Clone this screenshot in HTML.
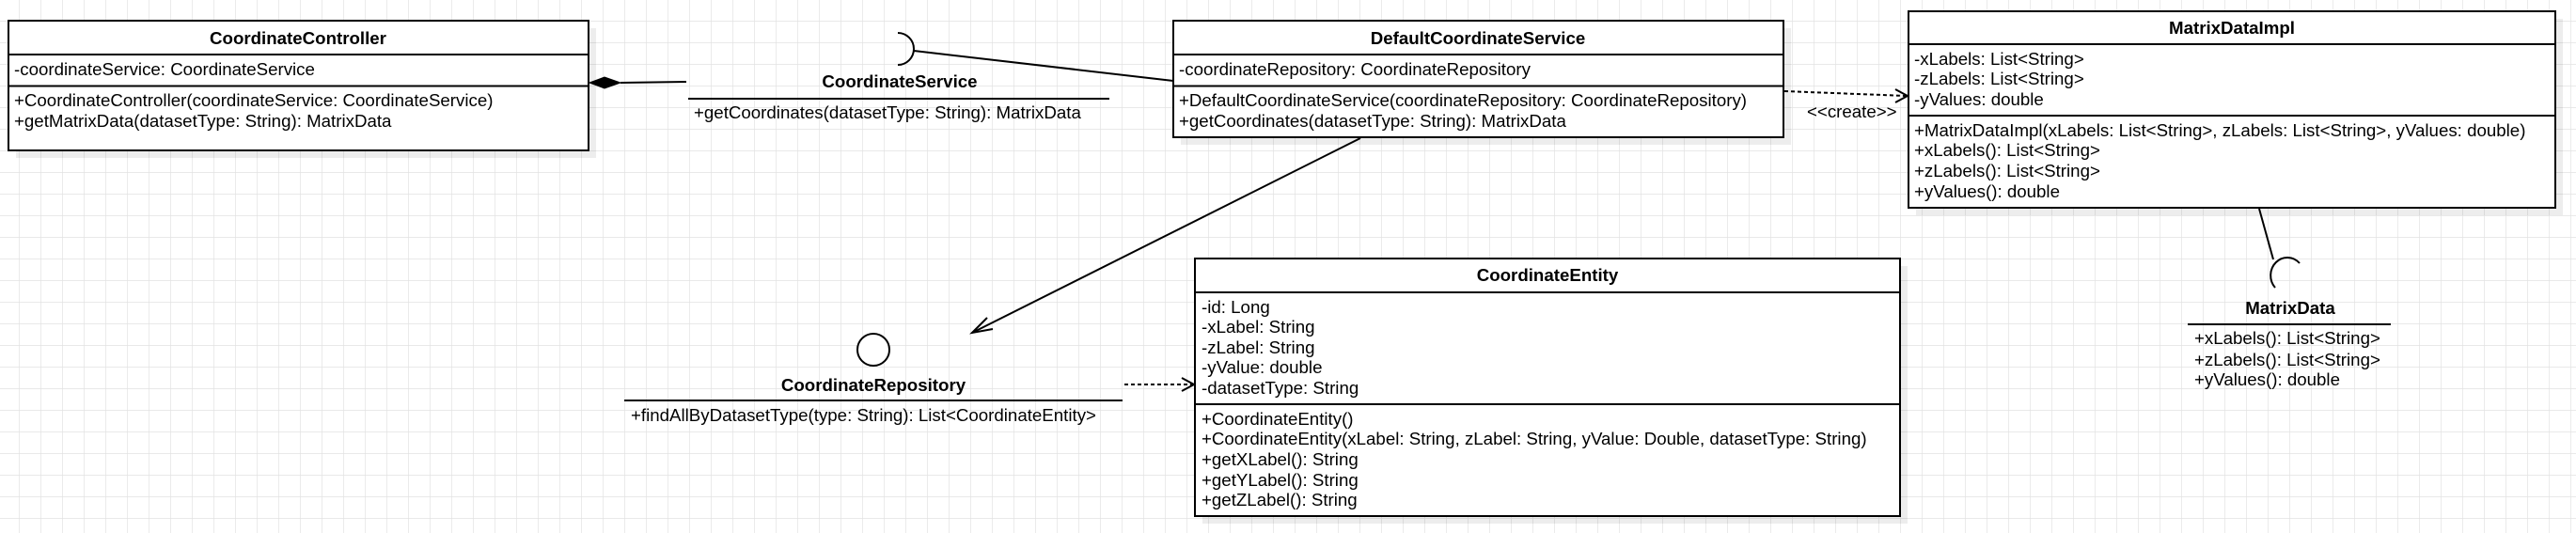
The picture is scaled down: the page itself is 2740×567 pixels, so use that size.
<!DOCTYPE html>
<html><head><meta charset="utf-8"><style>
html,body{margin:0;padding:0;background:#fff;}
svg{display:block;}
text{font-family:"Liberation Sans",sans-serif;font-size:18.7px;fill:#000;}
.b{font-weight:bold;}
</style></head><body>
<svg width="2740" height="567" viewBox="0 0 2740 567" xmlns="http://www.w3.org/2000/svg">
<defs>
<pattern id="g" x="20" y="22" width="23" height="23" patternUnits="userSpaceOnUse">
<path d="M0 0H23M0 0V23" stroke="#e2e2e2" stroke-width="1.4" fill="none"/>
</pattern>
</defs>
<rect width="2740" height="567" fill="url(#g)"/>

<g fill="#000" opacity="0.07">
<rect x="17" y="30" width="617" height="138"/>
<rect x="1256" y="30" width="649" height="124"/>
<rect x="2038" y="20" width="688" height="209"/>
<rect x="1279" y="283" width="750" height="274"/>
</g>

<g fill="#fff" stroke="#000" stroke-width="2">
<rect x="9" y="22" width="617" height="138"/>
<line x1="9" y1="58" x2="626" y2="58"/>
<line x1="9" y1="91.5" x2="626" y2="91.5"/>
<rect x="1248" y="22" width="649" height="124"/>
<line x1="1248" y1="58" x2="1897" y2="58"/>
<line x1="1248" y1="91.5" x2="1897" y2="91.5"/>
<rect x="2030" y="12" width="688" height="209"/>
<line x1="2030" y1="47" x2="2718" y2="47"/>
<line x1="2030" y1="123" x2="2718" y2="123"/>
<rect x="1271" y="275" width="750" height="274"/>
<line x1="1271" y1="311" x2="2021" y2="311"/>
<line x1="1271" y1="430" x2="2021" y2="430"/>
</g>

<text class="b" x="317" y="47" text-anchor="middle">CoordinateController</text>
<text x="15" y="80">-coordinateService: CoordinateService</text>
<text x="15" y="113">+CoordinateController(coordinateService: CoordinateService)</text>
<text x="15" y="135">+getMatrixData(datasetType: String): MatrixData</text>

<text class="b" x="1572" y="47" text-anchor="middle">DefaultCoordinateService</text>
<text x="1254" y="80">-coordinateRepository: CoordinateRepository</text>
<text x="1254" y="113">+DefaultCoordinateService(coordinateRepository: CoordinateRepository)</text>
<text x="1254" y="135">+getCoordinates(datasetType: String): MatrixData</text>

<text class="b" x="2374" y="36" text-anchor="middle">MatrixDataImpl</text>
<text x="2036" y="69">-xLabels: List&lt;String&gt;</text>
<text x="2036" y="90">-zLabels: List&lt;String&gt;</text>
<text x="2036" y="112">-yValues: double</text>
<text x="2036" y="145">+MatrixDataImpl(xLabels: List&lt;String&gt;, zLabels: List&lt;String&gt;, yValues: double)</text>
<text x="2036" y="166">+xLabels(): List&lt;String&gt;</text>
<text x="2036" y="188">+zLabels(): List&lt;String&gt;</text>
<text x="2036" y="210">+yValues(): double</text>

<text class="b" x="1646" y="299" text-anchor="middle">CoordinateEntity</text>
<text x="1278" y="333">-id: Long</text>
<text x="1278" y="354">-xLabel: String</text>
<text x="1278" y="376">-zLabel: String</text>
<text x="1278" y="397">-yValue: double</text>
<text x="1278" y="419">-datasetType: String</text>
<text x="1278" y="452">+CoordinateEntity()</text>
<text x="1278" y="473">+CoordinateEntity(xLabel: String, zLabel: String, yValue: Double, datasetType: String)</text>
<text x="1278" y="495">+getXLabel(): String</text>
<text x="1278" y="517">+getYLabel(): String</text>
<text x="1278" y="538">+getZLabel(): String</text>

<text class="b" x="957" y="93" text-anchor="middle">CoordinateService</text>
<line x1="732" y1="105" x2="1180" y2="105" stroke="#000" stroke-width="2"/>
<text x="738" y="126">+getCoordinates(datasetType: String): MatrixData</text>
<path d="M955 35 A17 17 0 0 1 955 69" fill="none" stroke="#000" stroke-width="2"/>
<line x1="972" y1="54" x2="1248" y2="86" stroke="#000" stroke-width="2"/>
<line x1="660" y1="88" x2="730" y2="87" stroke="#000" stroke-width="2"/>
<path d="M627 88 L643 82 L660 88 L643 94 Z" fill="#000" stroke="#000" stroke-width="1"/>

<ellipse cx="929" cy="372" rx="17" ry="17" fill="#fff" stroke="#000" stroke-width="2"/>
<text class="b" x="929" y="416" text-anchor="middle">CoordinateRepository</text>
<line x1="664" y1="426" x2="1194" y2="426" stroke="#000" stroke-width="2"/>
<text x="671" y="448">+findAllByDatasetType(type: String): List&lt;CoordinateEntity&gt;</text>

<line x1="1447" y1="147" x2="1034" y2="354" stroke="#000" stroke-width="2"/>
<path d="M1050 338 L1034 354 L1056 350" fill="none" stroke="#000" stroke-width="2"/>

<line x1="1196" y1="409" x2="1269" y2="409" stroke="#000" stroke-width="2" stroke-dasharray="4 3"/>
<path d="M1257 402 L1270 409 L1257 416" fill="none" stroke="#000" stroke-width="2"/>

<line x1="1898" y1="97" x2="2028" y2="102" stroke="#000" stroke-width="2" stroke-dasharray="4 3"/>
<path d="M2016 95 L2029 102 L2016 109" fill="none" stroke="#000" stroke-width="2"/>
<text x="1922" y="125">&lt;&lt;create&gt;&gt;</text>

<line x1="2403" y1="222" x2="2418" y2="276" stroke="#000" stroke-width="2"/>
<path d="M2446 280 A15 16 0 0 0 2420 306" fill="none" stroke="#000" stroke-width="2"/>
<text class="b" x="2436" y="334" text-anchor="middle">MatrixData</text>
<line x1="2327" y1="345" x2="2543" y2="345" stroke="#000" stroke-width="2"/>
<text x="2334" y="366">+xLabels(): List&lt;String&gt;</text>
<text x="2334" y="389">+zLabels(): List&lt;String&gt;</text>
<text x="2334" y="410">+yValues(): double</text>
</svg>
</body></html>
